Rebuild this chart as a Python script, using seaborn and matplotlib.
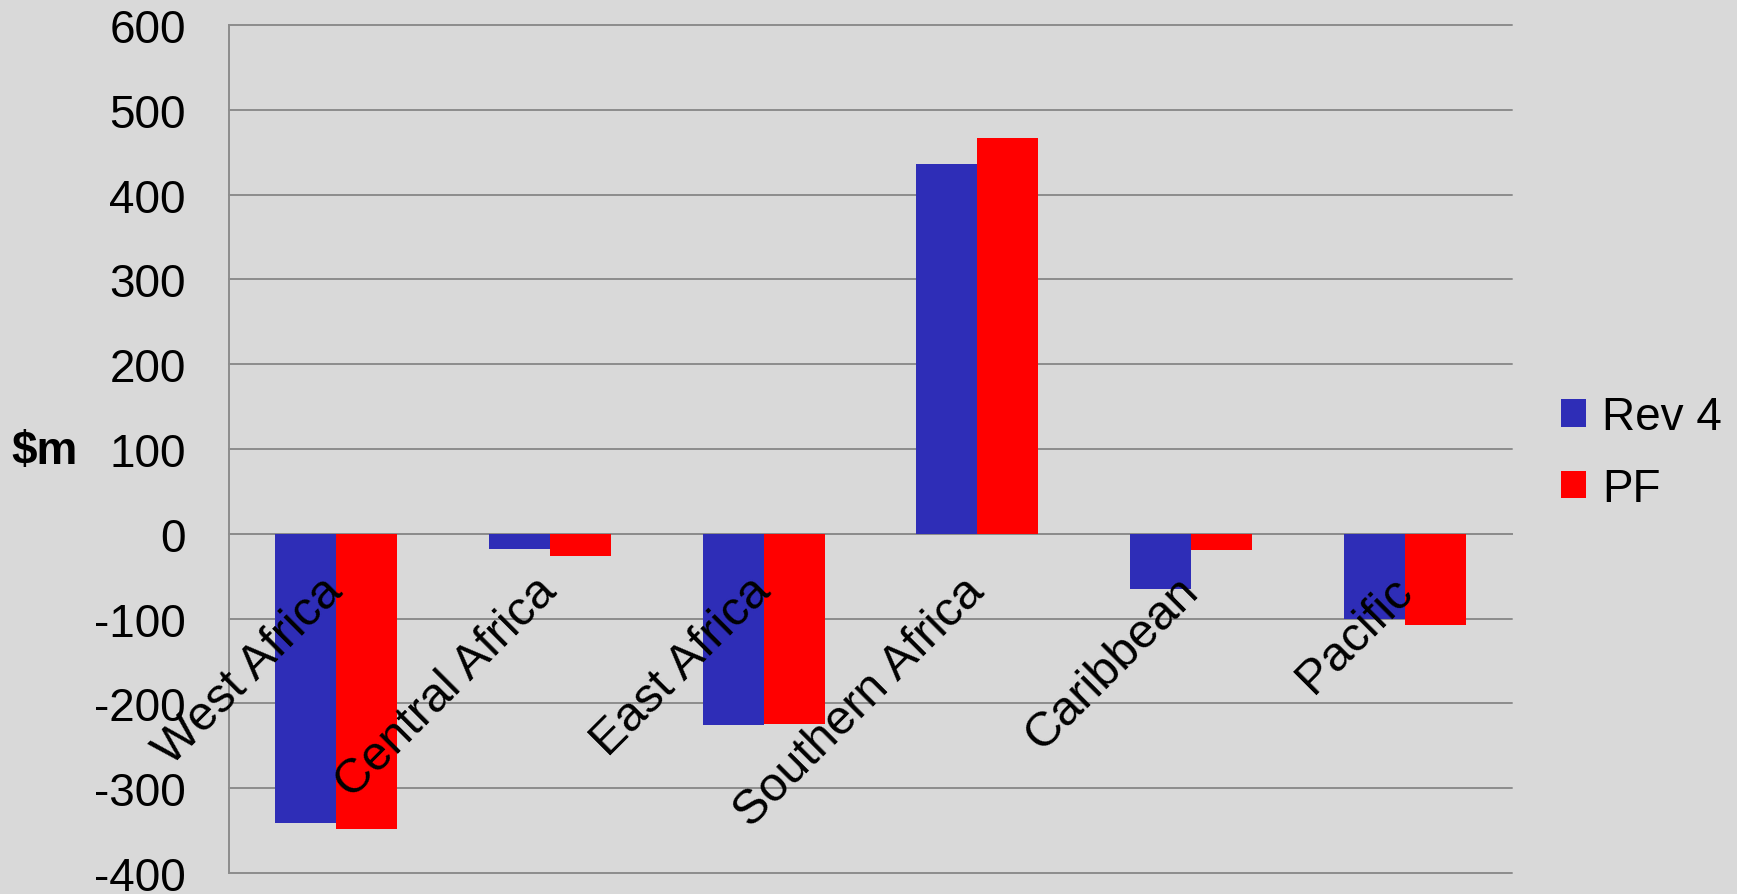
import matplotlib
matplotlib.use("Agg")
import matplotlib.pyplot as plt
import seaborn as sns
import pandas as pd
import numpy as np

regions = ["West Africa", "Central Africa", "East Africa", "Southern Africa", "Caribbean", "Pacific"]
series_names = ["Rev 4", "PF"]
rev4 = [-341, -18, -226, 436, -65, -100]
pf = [-348, -26, -224, 467, -19, -108]
yticks = [-400, -300, -200, -100, 0, 100, 200, 300, 400, 500, 600]
ylabel = "$m"

BG = "#D9D9D9"
GRID = "#8C8C8C"
colors = ["#2E2DB7", "#FF0000"]

df = pd.DataFrame({
    "region": regions * 2,
    "series": [series_names[0]] * len(regions) + [series_names[1]] * len(regions),
    "value": rev4 + pf,
})

sns.set_theme(style="white")
plt.rcParams["font.family"] = ["Liberation Sans", "DejaVu Sans"]
plt.rcParams["text.color"] = "black"
plt.rcParams["axes.labelcolor"] = "black"

fig = plt.figure(figsize=(17.37, 8.95), dpi=100, facecolor=BG)
ax = fig.add_axes([229 / 1737, 1 - 874 / 895, (1512 - 229) / 1737, (874 - 26) / 895])
ax.set_facecolor(BG)

sns.barplot(data=df, x="region", y="value", hue="series", palette=colors,
            width=0.57, saturation=1, ax=ax, linewidth=0, zorder=1)
ax.set_axisbelow(False)

ax.set_ylim(-400, 600)
ax.set_xlim(-0.5, len(regions) - 0.5)
ax.set_yticks(yticks)
ax.set_yticklabels([str(t) for t in yticks])
for t in yticks:
    ax.axhline(t, color=GRID, lw=1.4, zorder=0.5, clip_on=False)

for s in ["top", "right"]:
    ax.spines[s].set_visible(False)
ax.spines["left"].set_color(GRID)
ax.spines["left"].set_linewidth(1.4)
ax.spines["left"].set_zorder(0.6)
ax.spines["bottom"].set_position(("data", 0))
ax.spines["bottom"].set_color(GRID)
ax.spines["bottom"].set_linewidth(1.4)
ax.spines["bottom"].set_zorder(0.6)

ax.tick_params(axis="y", which="major", length=10, width=1.4, color=GRID,
               direction="out", pad=21, labelsize=33, labelcolor="black")
ax.set_xticks(np.arange(len(regions)))
ax.set_xticks(np.arange(-0.5, len(regions)), minor=True)
ax.tick_params(axis="x", which="major", length=0, pad=36, labelsize=35, labelcolor="black")
ax.tick_params(axis="x", which="minor", length=7, width=1.4, color=GRID, direction="out")
ax.set_xticklabels(regions, rotation=45, ha="right", va="center", rotation_mode="anchor")

ax.set_xlabel("")
ax.set_ylabel("")
fig.text(45 / 1737, 1 - 452 / 895, ylabel, fontsize=33, fontweight="bold",
         ha="center", va="center")

handles, labels = ax.get_legend_handles_labels()
ax.legend(handles, labels, loc="center left", bbox_to_anchor=(1561 / 1737, 1 - 454 / 895),
          bbox_transform=fig.transFigure, frameon=False, fontsize=33,
          handlelength=0.55, handleheight=0.55, handletextpad=0.35, labelspacing=0.6,
          borderpad=0, borderaxespad=0)

fig.savefig("out.png", dpi=100, facecolor=BG)
